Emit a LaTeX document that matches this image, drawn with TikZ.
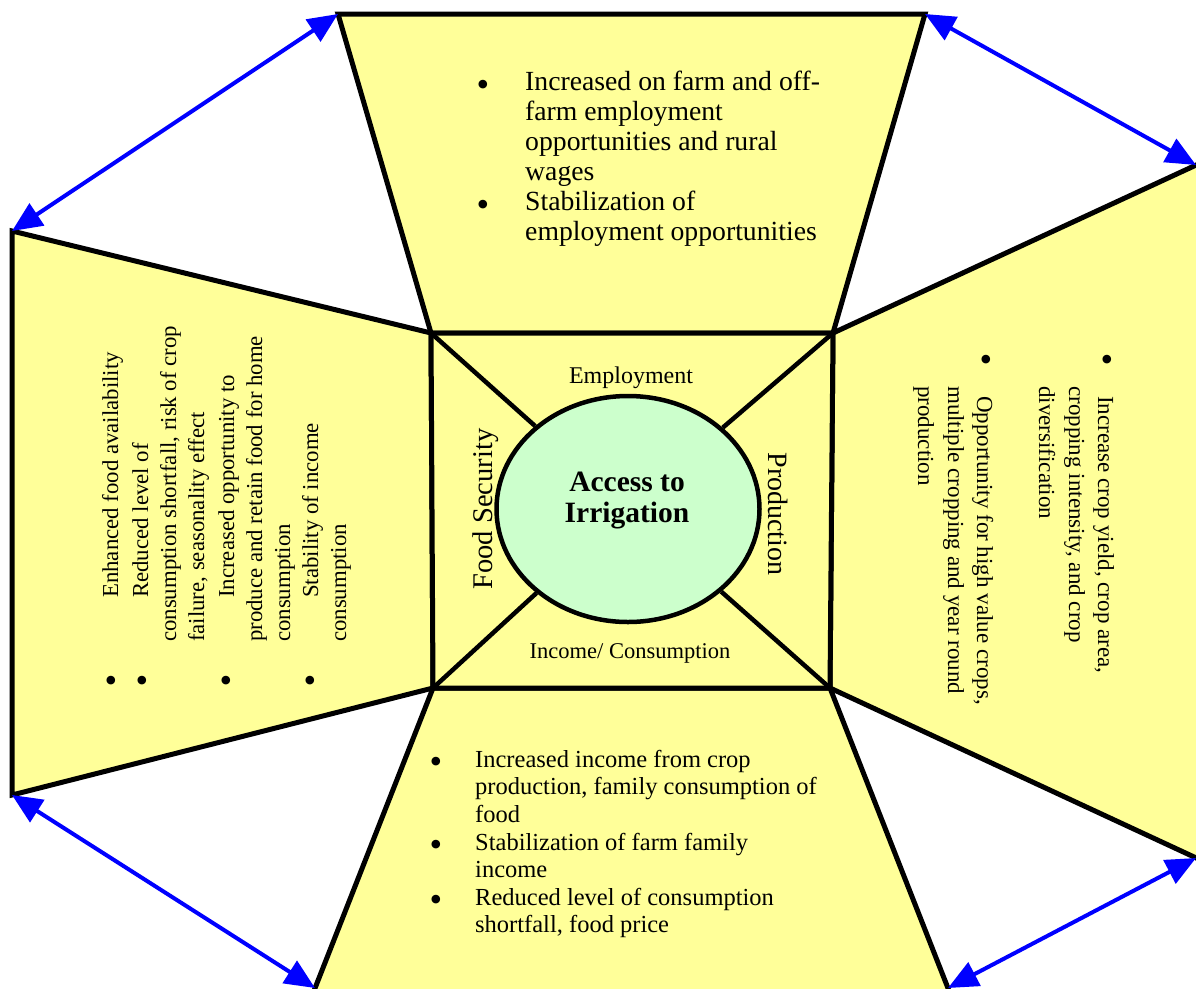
\documentclass[tikz,border=0pt]{standalone}
\usepackage{fontspec}
\setmainfont{Liberation Serif}
\usetikzlibrary{arrows.meta,shapes.geometric}
\definecolor{pad}{RGB}{255,255,153}
\definecolor{mint}{RGB}{204,255,204}
\definecolor{linkblue}{RGB}{0,0,255}
\begin{document}
\begin{tikzpicture}[x=1pt,y=-1pt,
  panel/.style={draw=black, line width=5pt, fill=pad, line join=miter},
  spoke/.style={draw=black, line width=4.5pt},
  link/.style={draw=linkblue, line width=4pt,
    {Triangle[length=30pt,width=26pt]}-{Triangle[length=30pt,width=26pt]}},
  txt/.style={inner sep=0pt, anchor=base west},
  bul/.style={inner sep=0pt, anchor=center, font=\fontsize{36}{36}\selectfont},
  topfont/.style={font=\fontsize{27.7}{30}\selectfont},
  botfont/.style={font=\fontsize{24.5}{28}\selectfont},
  leftfont/.style={font=\fontsize{22.8}{26}\selectfont, rotate=90},
  rightfont/.style={font=\fontsize{23}{28}\selectfont, rotate=-90},
  lbl/.style={inner sep=0pt, anchor=base}
]
\useasboundingbox (0,0) rectangle (1196,988);
\clip (0,0) rectangle (1196,988);
% corners
\coordinate (TL) at (338,14);
\coordinate (TR) at (925,14);
\coordinate (LT) at (12,231);
\coordinate (LB) at (12,795);
\coordinate (RT) at (1196,165);
\coordinate (RB) at (1196,858);
\coordinate (RTx) at (1220,154);
\coordinate (RBx) at (1220,869);
\coordinate (BL) at (315,988);
\coordinate (BR) at (948,988);
\coordinate (BLx) at (308,1006);
\coordinate (BRx) at (955,1006);
\coordinate (SqTL) at (431,333);
\coordinate (SqTR) at (833,333);
\coordinate (SqBR) at (830,688);
\coordinate (SqBL) at (433,688);
% panels
\draw[panel] (LT) -- (SqTL) -- (SqBL) -- (LB) -- cycle;
\draw[panel] (SqTR) -- (RTx) -- (RBx) -- (SqBR) -- cycle;
\draw[panel] (TL) -- (TR) -- (SqTR) -- (SqTL) -- cycle;
\draw[panel] (SqBL) -- (SqBR) -- (BRx) -- (BLx) -- cycle;
\draw[panel] (SqTL) -- (SqTR) -- (SqBR) -- (SqBL) -- cycle;
% hub
\node[ellipse, draw=black, line width=4.5pt, fill=mint, minimum width=263pt, minimum height=226pt, inner sep=0pt] (ell) at (628,509) {};
\draw[spoke] (SqTL) -- (ell);
\draw[spoke] (SqTR) -- (ell);
\draw[spoke] (SqBR) -- (ell);
\draw[spoke] (SqBL) -- (ell);
\node[font=\bfseries\fontsize{29.5}{31}\selectfont, align=center, inner sep=0pt] (irr) at (627,501) {Access to\\Irrigation};
% centre labels
\node[lbl, font=\fontsize{24}{28}\selectfont] (emp) at (631,383) {Employment};
\node[lbl, font=\fontsize{22.5}{26}\selectfont] (inc) at (630,658) {Income/ Consumption};
\node[lbl, font=\fontsize{28.5}{32}\selectfont, rotate=90] (food) at (492,509) {Food Security};
\node[lbl, font=\fontsize{28}{32}\selectfont, rotate=-90] (prod) at (768,514) {Production};
% top panel text
\node[bul] (tb1) at (483,88) {•};
\node[bul] (tb2) at (483,208) {•};
\node[txt, topfont] (t1) at (525,90) {Increased on farm and off-};
\node[txt, topfont] (t2) at (525,120) {farm employment};
\node[txt, topfont] (t3) at (525,150) {opportunities and rural};
\node[txt, topfont] (t4) at (525,180) {wages};
\node[txt, topfont] (t5) at (525,210) {Stabilization of};
\node[txt, topfont] (t6) at (525,240) {employment opportunities};
% bottom panel text
\node[bul] (bb1) at (436,765) {•};
\node[bul] (bb2) at (436,848) {•};
\node[bul] (bb3) at (436,903) {•};
\node[txt, botfont] (b1) at (475,767) {Increased income from crop};
\node[txt, botfont] (b2) at (475,794) {production, family consumption of};
\node[txt, botfont] (b3) at (475,822) {food};
\node[txt, botfont] (b4) at (475,850) {Stabilization of farm family};
\node[txt, botfont] (b5) at (475,877) {income};
\node[txt, botfont] (b6) at (475,905) {Reduced level of consumption};
\node[txt, botfont] (b7) at (475,932) {shortfall, food price};
% left panel text
\node[bul] (lb1) at (111,684) {•};
\node[bul] (lb2) at (142,684) {•};
\node[bul] (lb3) at (226,684) {•};
\node[bul] (lb4) at (310,684) {•};
\node[txt, leftfont] (l1) at (118,598) {Enhanced food availability};
\node[txt, leftfont] (l2) at (148,598) {Reduced level of};
\node[txt, leftfont] (l3) at (176,642) {consumption shortfall, risk of crop};
\node[txt, leftfont] (l4) at (204,642) {failure, seasonality effect};
\node[txt, leftfont] (l5) at (234,598) {Increased opportunity to};
\node[txt, leftfont] (l6) at (262,642) {produce and retain food for home};
\node[txt, leftfont] (l7) at (290,642) {consumption};
\node[txt, leftfont] (l8) at (318,598) {Stability of income};
\node[txt, leftfont] (l9) at (346,642) {consumption};
% right panel text
\node[bul] (rb1) at (1107,363) {•};
\node[bul] (rb2) at (986,363) {•};
\node[txt, rightfont] (r1) at (1098,396) {Increase crop yield, crop area,};
\node[txt, rightfont] (r2) at (1069,386) {cropping intensity, and crop};
\node[txt, rightfont] (r3) at (1039,386) {diversification};
\node[txt, rightfont] (r4) at (977,396) {Opportunity for high value crops,};
\node[txt, rightfont] (r5) at (948,386) {multiple cropping and year round};
\node[txt, rightfont] (r6) at (918,386) {production};
% links
\draw[link] (TL) -- (LT);
\draw[link] (TR) -- (RT);
\draw[link] (LB) -- (BL);
\draw[link] (BR) -- (RB);
\end{tikzpicture}
\end{document}
